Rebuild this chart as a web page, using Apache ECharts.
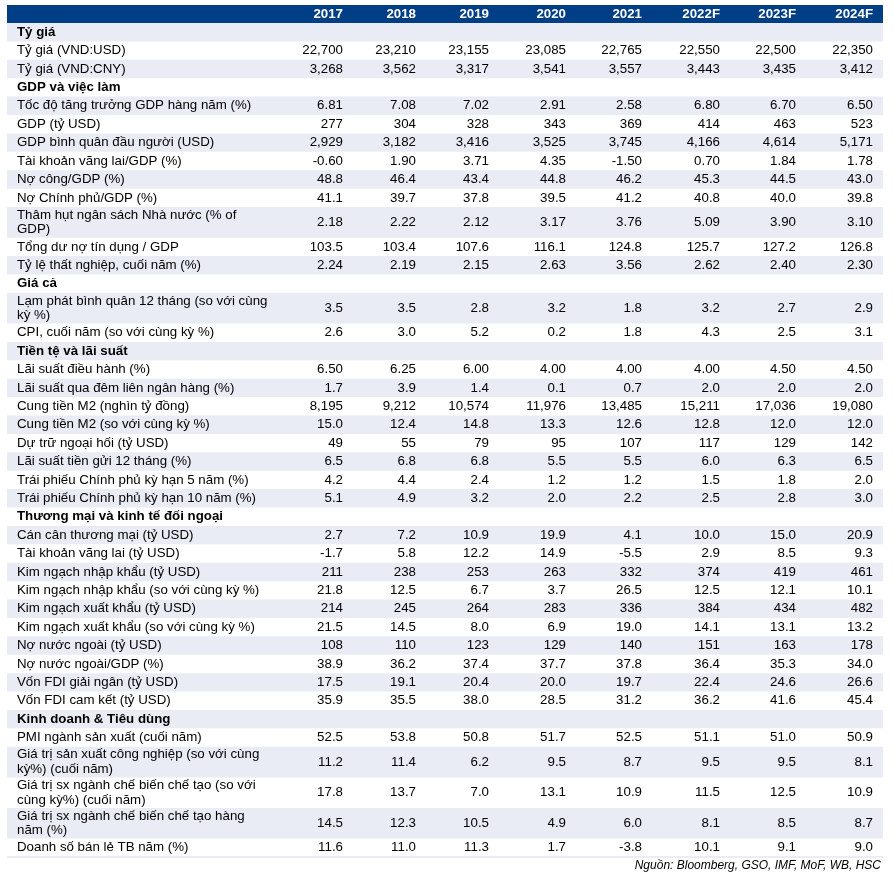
<!DOCTYPE html>
<html><head><meta charset="utf-8">
<script src="https://cdn.jsdelivr.net/npm/echarts@6/dist/echarts.min.js"></script>
<style>html,body{margin:0;padding:0;background:#fff}#c{width:894px;height:873px}</style>
</head><body><div id="c"></div>
<script>
// ---------------- DATA ----------------
const years = ['2017','2018','2019','2020','2021','2022F','2023F','2024F'];

const rowLabels = [
  'Tỷ giá',
  'Tỷ giá (VND:USD)',
  'Tỷ giá (VND:CNY)',
  'GDP và việc làm',
  'Tốc độ tăng trưởng GDP hàng năm (%)',
  'GDP (tỷ USD)',
  'GDP bình quân đầu người (USD)',
  'Tài khoản vãng lai/GDP (%)',
  'Nợ công/GDP (%)',
  'Nợ Chính phủ/GDP (%)',
  'Thâm hụt ngân sách Nhà nước (% of\nGDP)',
  'Tổng dư nợ tín dụng / GDP',
  'Tỷ lệ thất nghiệp, cuối năm (%)',
  'Giá cả',
  'Lạm phát bình quân 12 tháng (so với cùng\nkỳ %)',
  'CPI, cuối năm (so với cùng kỳ %)',
  'Tiền tệ và lãi suất',
  'Lãi suất điều hành (%)',
  'Lãi suất qua đêm liên ngân hàng (%)',
  'Cung tiền M2 (nghìn tỷ đồng)',
  'Cung tiền M2 (so với cùng kỳ %)',
  'Dự trữ ngoại hối (tỷ USD)',
  'Lãi suất tiền gửi 12 tháng (%)',
  'Trái phiếu Chính phủ kỳ hạn 5 năm (%)',
  'Trái phiếu Chính phủ kỳ hạn 10 năm (%)',
  'Thương mại và kinh tế đối ngoại',
  'Cán cân thương mại (tỷ USD)',
  'Tài khoản vãng lai (tỷ USD)',
  'Kim ngạch nhập khẩu (tỷ USD)',
  'Kim ngạch nhập khẩu (so với cùng kỳ %)',
  'Kim ngạch xuất khẩu (tỷ USD)',
  'Kim ngạch xuất khẩu (so với cùng kỳ %)',
  'Nợ nước ngoài (tỷ USD)',
  'Nợ nước ngoài/GDP (%)',
  'Vốn FDI giải ngân (tỷ USD)',
  'Vốn FDI cam kết (tỷ USD)',
  'Kinh doanh & Tiêu dùng',
  'PMI ngành sản xuất (cuối năm)',
  'Giá trị sản xuất công nghiệp (so với cùng\nkỳ%) (cuối năm)',
  'Giá trị sx ngành chế biến chế tạo (so với\ncùng kỳ%) (cuối năm)',
  'Giá trị sx ngành chế biến chế tạo hàng\nnăm (%)',
  'Doanh số bán lẻ TB năm (%)'
];

const rowValues = [
  null,
  [22700, 23210, 23155, 23085, 22765, 22550, 22500, 22350],
  [3268, 3562, 3317, 3541, 3557, 3443, 3435, 3412],
  null,
  [6.81, 7.08, 7.02, 2.91, 2.58, 6.80, 6.70, 6.50],
  [277, 304, 328, 343, 369, 414, 463, 523],
  [2929, 3182, 3416, 3525, 3745, 4166, 4614, 5171],
  [-0.60, 1.90, 3.71, 4.35, -1.50, 0.70, 1.84, 1.78],
  [48.8, 46.4, 43.4, 44.8, 46.2, 45.3, 44.5, 43.0],
  [41.1, 39.7, 37.8, 39.5, 41.2, 40.8, 40.0, 39.8],
  [2.18, 2.22, 2.12, 3.17, 3.76, 5.09, 3.90, 3.10],
  [103.5, 103.4, 107.6, 116.1, 124.8, 125.7, 127.2, 126.8],
  [2.24, 2.19, 2.15, 2.63, 3.56, 2.62, 2.40, 2.30],
  null,
  [3.5, 3.5, 2.8, 3.2, 1.8, 3.2, 2.7, 2.9],
  [2.6, 3.0, 5.2, 0.2, 1.8, 4.3, 2.5, 3.1],
  null,
  [6.50, 6.25, 6.00, 4.00, 4.00, 4.00, 4.50, 4.50],
  [1.7, 3.9, 1.4, 0.1, 0.7, 2.0, 2.0, 2.0],
  [8195, 9212, 10574, 11976, 13485, 15211, 17036, 19080],
  [15.0, 12.4, 14.8, 13.3, 12.6, 12.8, 12.0, 12.0],
  [49, 55, 79, 95, 107, 117, 129, 142],
  [6.5, 6.8, 6.8, 5.5, 5.5, 6.0, 6.3, 6.5],
  [4.2, 4.4, 2.4, 1.2, 1.2, 1.5, 1.8, 2.0],
  [5.1, 4.9, 3.2, 2.0, 2.2, 2.5, 2.8, 3.0],
  null,
  [2.7, 7.2, 10.9, 19.9, 4.1, 10.0, 15.0, 20.9],
  [-1.7, 5.8, 12.2, 14.9, -5.5, 2.9, 8.5, 9.3],
  [211, 238, 253, 263, 332, 374, 419, 461],
  [21.8, 12.5, 6.7, 3.7, 26.5, 12.5, 12.1, 10.1],
  [214, 245, 264, 283, 336, 384, 434, 482],
  [21.5, 14.5, 8.0, 6.9, 19.0, 14.1, 13.1, 13.2],
  [108, 110, 123, 129, 140, 151, 163, 178],
  [38.9, 36.2, 37.4, 37.7, 37.8, 36.4, 35.3, 34.0],
  [17.5, 19.1, 20.4, 20.0, 19.7, 22.4, 24.6, 26.6],
  [35.9, 35.5, 38.0, 28.5, 31.2, 36.2, 41.6, 45.4],
  null,
  [52.5, 53.8, 50.8, 51.7, 52.5, 51.1, 51.0, 50.9],
  [11.2, 11.4, 6.2, 9.5, 8.7, 9.5, 9.5, 8.1],
  [17.8, 13.7, 7.0, 13.1, 10.9, 11.5, 12.5, 10.9],
  [14.5, 12.3, 10.5, 4.9, 6.0, 8.1, 8.5, 8.7],
  [11.6, 11.0, 11.3, 1.7, -3.8, 10.1, 9.1, 9.0]
];

const rowDecimals = [
  0, 0, 0, 0, 2, 0, 0, 2, 1, 1, 2, 1, 2,
  0, 1, 1,
  0, 2, 1, 0, 1, 0, 1, 1, 1,
  0, 1, 1, 0, 1, 0, 1, 0, 1, 1, 1,
  0, 1, 1, 1, 1, 1
];

const sourceNote = 'Nguồn: Bloomberg, GSO, IMF, MoF, WB, HSC';

// ---------------- LAYOUT / STYLE ----------------
const TABLE_LEFT = 7, TABLE_RIGHT = 883, LABEL_X = 17;
const COL_RIGHT = [343, 416, 489, 566, 642, 720, 796, 873];
const HEADER_H = 18, SINGLE_H = 18.4, DOUBLE_H = 30.6;
const FONT = 'Arial, "Liberation Sans", Helvetica, sans-serif';
const FS = 13.3;
const HEADER_BG = '#003f85', SHADE_BG = '#e9ecf4', LINE_COLOR = '#d5dbe8';

function fmt(v, d) {
  const neg = v < 0;
  let s = Math.abs(v).toFixed(d);
  let parts = s.split('.');
  parts[0] = parts[0].replace(/\B(?=(\d{3})+(?!\d))/g, ',');
  return (neg ? '-' : '') + parts.join('.');
}

// build row extents: row 0 = header
const rows = [];
let yCur = 0;
rows.push([0, yCur, yCur + HEADER_H]);
yCur += HEADER_H;
rowLabels.forEach((lab, i) => {
  const h = lab.indexOf('\n') >= 0 ? DOUBLE_H : SINGLE_H;
  rows.push([i + 1, yCur, yCur + h]);
  yCur += h;
});
const TOTAL_H = yCur;

const chart = echarts.init(document.getElementById('c'), null, {renderer: 'canvas'});

function renderItem(params, api) {
  const idx = api.value(0);
  const y0 = api.value(1), y1 = api.value(2);
  const pTL = api.coord([TABLE_LEFT, y0]);
  const pBR = api.coord([TABLE_RIGHT, y1]);
  const yMid = (pTL[1] + pBR[1]) / 2;
  const children = [];
  if (idx === 0) {
    children.push({type: 'rect', shape: {x: pTL[0], y: pTL[1], width: pBR[0] - pTL[0], height: pBR[1] - pTL[1]}, style: {fill: HEADER_BG}});
    years.forEach((yr, c) => {
      const p = api.coord([COL_RIGHT[c], y0]);
      children.push({type: 'text', style: {text: yr, x: p[0], y: yMid, align: 'right', verticalAlign: 'middle',
        fill: '#ffffff', fontFamily: FONT, fontSize: FS, fontWeight: 'bold'}});
    });
    return {type: 'group', children};
  }
  const r = idx - 1;
  if (r % 2 === 0) {
    children.push({type: 'rect', shape: {x: pTL[0], y: pTL[1], width: pBR[0] - pTL[0], height: pBR[1] - pTL[1]}, style: {fill: SHADE_BG}});
  }
  const vals = rowValues[r];
  const pl = api.coord([LABEL_X, y0]);
  children.push({type: 'text', style: {text: rowLabels[r], x: pl[0], y: yMid, align: 'left', verticalAlign: 'middle',
    fill: '#000000', fontFamily: FONT, fontSize: FS, lineHeight: 14.5, fontWeight: vals ? 'normal' : 'bold'}});
  if (vals) {
    vals.forEach((v, c) => {
      const p = api.coord([COL_RIGHT[c], y0]);
      children.push({type: 'text', style: {text: fmt(v, rowDecimals[r]), x: p[0], y: yMid, align: 'right', verticalAlign: 'middle',
        fill: '#000000', fontFamily: FONT, fontSize: FS}});
    });
  }
  if (r === rowLabels.length - 1) {
    children.push({type: 'line', shape: {x1: pTL[0], y1: pBR[1], x2: pBR[0], y2: pBR[1]}, style: {stroke: LINE_COLOR, lineWidth: 1}});
  }
  return {type: 'group', children};
}

chart.setOption({
  animation: false,
  backgroundColor: '#ffffff',
  grid: {left: 0, right: 0, top: 5, bottom: 873 - 5 - 852},
  xAxis: {type: 'value', min: 0, max: 894, show: false},
  yAxis: {type: 'value', min: 0, max: TOTAL_H, inverse: true, show: false},
  graphic: [{
    type: 'text', right: 13, top: 860,
    style: {text: sourceNote, fill: '#000000', fontFamily: FONT, fontSize: 12, fontStyle: 'italic', align: 'right'}
  }],
  series: [{
    type: 'custom',
    renderItem: renderItem,
    clip: false,
    encode: {x: -1, y: [1, 2]},
    data: rows
  }]
});
</script></body></html>
